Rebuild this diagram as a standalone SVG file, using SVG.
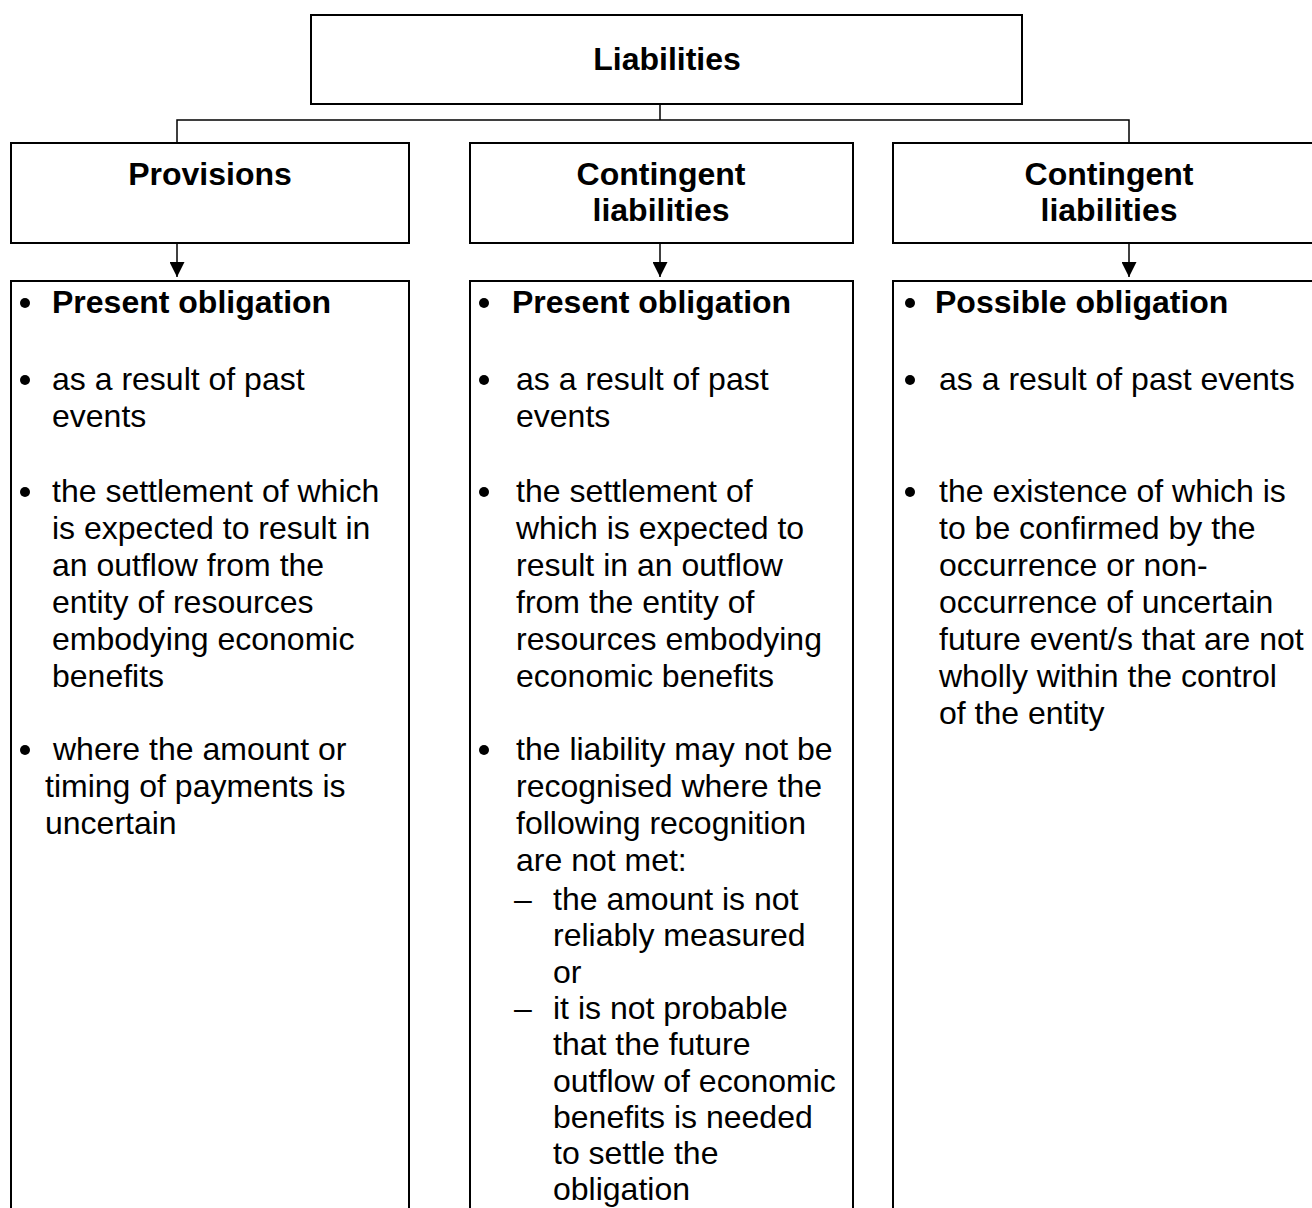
<svg xmlns="http://www.w3.org/2000/svg" width="1312" height="1208" viewBox="0 0 1312 1208">
<style>
.box{fill:#fff;stroke:#000;stroke-width:2}
.conn{fill:none;stroke:#000;stroke-width:1.5}
text{font-family:"Liberation Sans",Arial,sans-serif;font-size:32px;fill:#000}
.b{font-weight:bold}
.c{text-anchor:middle}
.dot{fill:#000}
</style>
<defs>
<marker id="ah" markerWidth="15" markerHeight="15" refX="15" refY="7.5" orient="auto" markerUnits="userSpaceOnUse">
<path d="M0,0 L15,7.5 L0,15 Z" fill="#000"/>
</marker>
</defs>
<rect width="1312" height="1208" fill="#fff"/>
<g id="connectors">
<path class="conn" d="M660,102 V120 M177,143 V120 H1129 V143"/>
<path class="conn" d="M177,243 V277" marker-end="url(#ah)"/>
<path class="conn" d="M660,243 V277" marker-end="url(#ah)"/>
<path class="conn" d="M1129,243 V277" marker-end="url(#ah)"/>
</g>
<g id="liabilities">
<rect class="box" x="311" y="15" width="711" height="89"/>
<text class="b c" x="667" y="70">Liabilities</text>
</g>
<g id="provisions">
<rect class="box" x="11" y="143" width="398" height="100"/>
<text class="b c" x="210" y="185">Provisions</text>
</g>
<g id="contingent1">
<rect class="box" x="470" y="143" width="383" height="100"/>
<text class="b c" x="661" y="185">Contingent</text>
<text class="b c" x="661" y="221">liabilities</text>
</g>
<g id="contingent2">
<rect class="box" x="893" y="143" width="440" height="100"/>
<text class="b c" x="1109" y="185">Contingent</text>
<text class="b c" x="1109" y="221">liabilities</text>
</g>
<g id="provisions-detail">
<rect class="box" x="11" y="281" width="398" height="960"/>
<circle class="dot" cx="25" cy="303" r="5"/>
<circle class="dot" cx="25" cy="380" r="5"/>
<circle class="dot" cx="25" cy="492" r="5"/>
<circle class="dot" cx="25" cy="750" r="5"/>
<text class="b" x="52" y="313">Present obligation</text>
<text x="52" y="390">as a result of past</text>
<text x="52" y="427">events</text>
<text x="52" y="502">the settlement of which</text>
<text x="52" y="539">is expected to result in</text>
<text x="52" y="576">an outflow from the</text>
<text x="52" y="613">entity of resources</text>
<text x="52" y="650">embodying economic</text>
<text x="52" y="687">benefits</text>
<text x="53" y="760">where the amount or</text>
<text x="45" y="797">timing of payments is</text>
<text x="45" y="834">uncertain</text>
</g>
<g id="contingent1-detail">
<rect class="box" x="470" y="281" width="383" height="960"/>
<circle class="dot" cx="484" cy="303" r="5"/>
<circle class="dot" cx="484" cy="380" r="5"/>
<circle class="dot" cx="484" cy="492" r="5"/>
<circle class="dot" cx="484" cy="750" r="5"/>
<text class="b" x="512" y="313">Present obligation</text>
<text x="516" y="390">as a result of past</text>
<text x="516" y="427">events</text>
<text x="516" y="502">the settlement of</text>
<text x="516" y="539">which is expected to</text>
<text x="516" y="576">result in an outflow</text>
<text x="516" y="613">from the entity of</text>
<text x="516" y="650">resources embodying</text>
<text x="516" y="687">economic benefits</text>
<text x="516" y="760">the liability may not be</text>
<text x="516" y="797">recognised where the</text>
<text x="516" y="834">following recognition</text>
<text x="516" y="871">are not met:</text>
<text x="514" y="910">–</text>
<text x="553" y="910">the amount is not</text>
<text x="553" y="946.3">reliably measured</text>
<text x="553" y="982.6">or</text>
<text x="514" y="1018.9">–</text>
<text x="553" y="1018.9">it is not probable</text>
<text x="553" y="1055.2">that the future</text>
<text x="553" y="1091.5">outflow of economic</text>
<text x="553" y="1127.8">benefits is needed</text>
<text x="553" y="1164.1">to settle the</text>
<text x="553" y="1200.4">obligation</text>
</g>
<g id="contingent2-detail">
<rect class="box" x="893" y="281" width="440" height="960"/>
<circle class="dot" cx="910" cy="303" r="5"/>
<circle class="dot" cx="910" cy="380" r="5"/>
<circle class="dot" cx="910" cy="492" r="5"/>
<text class="b" x="935" y="313">Possible obligation</text>
<text x="939" y="390">as a result of past events</text>
<text x="939" y="502">the existence of which is</text>
<text x="939" y="539">to be confirmed by the</text>
<text x="939" y="576">occurrence or non-</text>
<text x="939" y="613">occurrence of uncertain</text>
<text x="939" y="650">future event/s that are not</text>
<text x="939" y="687">wholly within the control</text>
<text x="939" y="724">of the entity</text>
</g>
</svg>
